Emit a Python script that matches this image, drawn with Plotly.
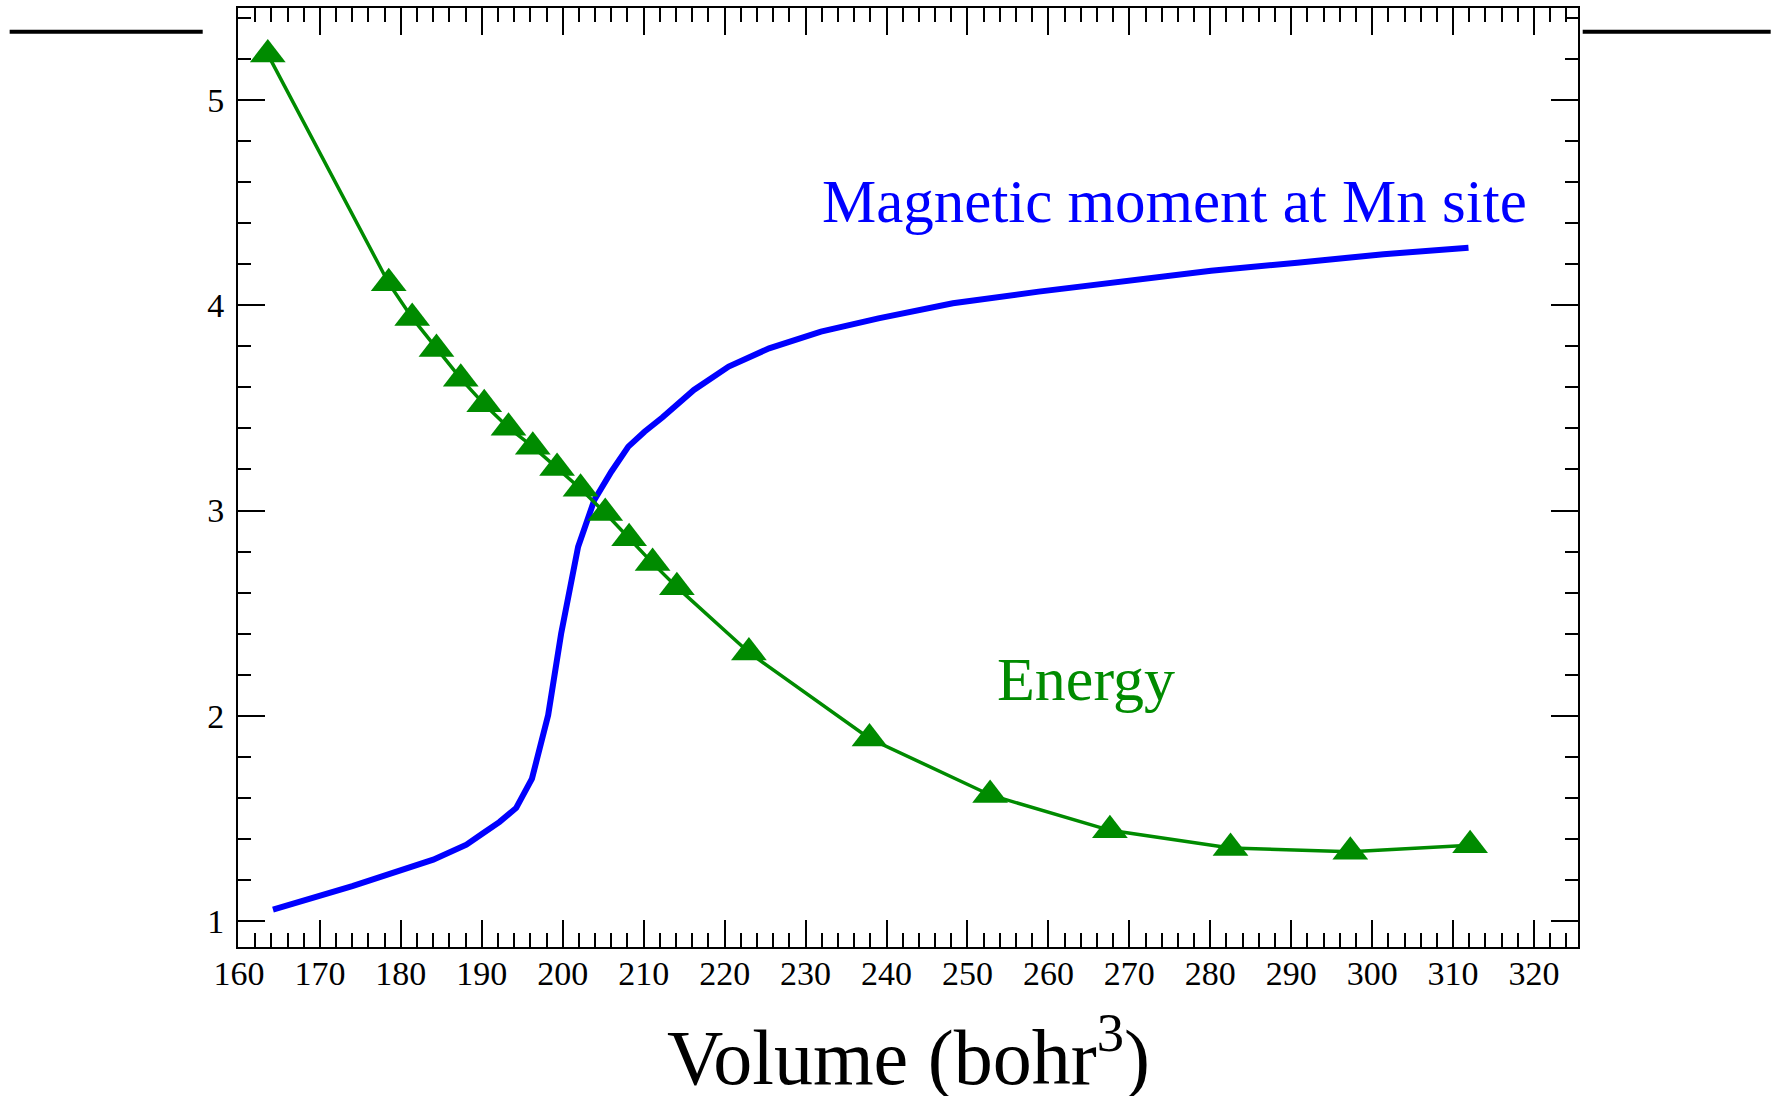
import plotly.graph_objects as go

# Energy (triangles)
energy_volume = [163.56, 178.5, 181.4, 184.4, 187.4, 190.3, 193.3, 196.3, 199.3, 202.2,
                 205.25, 208.2, 211.1, 214.1, 223.0, 237.9, 252.8, 267.6, 282.5, 297.3, 312.1]
energy_value = [5.221, 4.107, 3.938, 3.787, 3.642, 3.517, 3.403, 3.311, 3.207, 3.106,
                2.988, 2.865, 2.744, 2.627, 2.309, 1.890, 1.615, 1.443, 1.357, 1.338, 1.370]

# Magnetic moment at Mn site (blue line)
moment_volume = [164.2, 174.0, 184.0, 186.0, 188.1, 190.1, 192.2, 194.25, 196.2, 198.2,
                 199.8, 201.9, 203.9, 206.0, 208.1, 210.1, 212.3, 216.2, 220.5, 225.5,
                 231.9, 239.0, 248.2, 258.8, 269.5, 280.1, 290.75, 301.4, 311.9]
moment_value = [1.057, 1.171, 1.300, 1.333, 1.373, 1.427, 1.484, 1.552, 1.695, 2.004,
                2.400, 2.824, 3.051, 3.189, 3.311, 3.384, 3.453, 3.587, 3.701, 3.790,
                3.871, 3.936, 4.009, 4.066, 4.120, 4.168, 4.207, 4.248, 4.280]

x_ticks = list(range(160, 330, 10))
y_ticks = [1, 2, 3, 4, 5]

FONT = "Liberation Serif"
GREEN = "#008b00"
BLUE = "#0000ff"

fig = go.Figure()
fig.add_trace(go.Scatter(
    x=moment_volume, y=moment_value, mode="lines",
    line=dict(color=BLUE, width=6), hoverinfo="skip"))
fig.add_trace(go.Scatter(
    x=energy_volume, y=energy_value, mode="lines+markers",
    line=dict(color=GREEN, width=3.5),
    marker=dict(symbol="triangle-up", size=31, color=GREEN, line=dict(width=0)),
    hoverinfo="skip"))

axis_common = dict(
    showgrid=False, zeroline=False, showline=True, linecolor="black", linewidth=2,
    mirror="allticks", ticks="inside", tickcolor="black", tickwidth=2, ticklen=27,
    tickfont=dict(family=FONT, size=34, color="black"),
)

fig.update_xaxes(
    range=[159.88, 325.43], tickmode="array", tickvals=x_ticks,
    ticktext=[str(t) for t in x_ticks], ticklabelstandoff=-5,
    minor=dict(dtick=2, tick0=160, ticks="inside", ticklen=14, tickwidth=2, tickcolor="black"),
    **axis_common)
fig.update_yaxes(
    range=[0.8748, 5.447], tickmode="array", tickvals=y_ticks,
    ticktext=[str(t) for t in y_ticks], ticklabelstandoff=5,
    minor=dict(dtick=0.2, tick0=0, ticks="inside", ticklen=13, tickwidth=2, tickcolor="black"),
    **axis_common)

# x-axis title
fig.add_annotation(x=0.5, y=-0.1108, xref="paper", yref="paper", xanchor="center", yanchor="middle",
                   text="Volume (bohr<sup>3</sup>)", showarrow=False,
                   font=dict(family=FONT, size=78, color="black"))

fig.add_annotation(x=0.434, y=0.7937, xref="paper", yref="paper", xanchor="left", yanchor="middle",
                   text="Magnetic moment at Mn site", showarrow=False,
                   font=dict(family=FONT, size=61, color=BLUE))
fig.add_annotation(x=0.5647, y=0.2856, xref="paper", yref="paper", xanchor="left", yanchor="middle",
                   text="Energy", showarrow=False,
                   font=dict(family=FONT, size=62, color=GREEN))

for x0, x1 in [(-0.1704, -0.02634), (1.00351, 1.1438)]:
    fig.add_shape(type="line", xref="paper", yref="paper", x0=x0, x1=x1, y0=0.9747, y1=0.9747,
                  line=dict(color="black", width=4))

fig.update_layout(
    width=1771, height=1096,
    margin=dict(l=238, r=193, t=8, b=149, autoexpand=False),
    paper_bgcolor="white", plot_bgcolor="white",
    showlegend=False,
    font=dict(family=FONT, color="black"),
)

fig.write_html("out.html")
